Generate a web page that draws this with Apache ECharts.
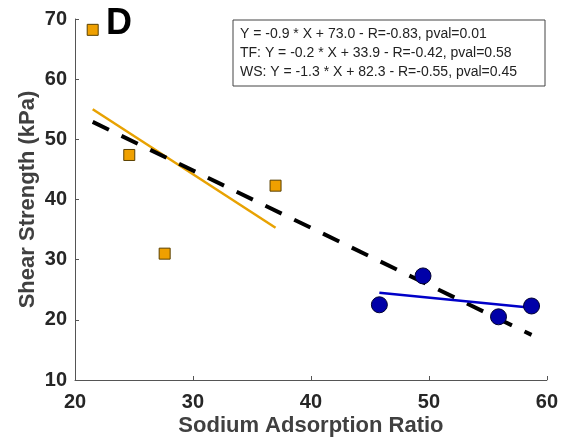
<!DOCTYPE html>
<html>
<head>
<meta charset="utf-8">
<script src="https://cdn.jsdelivr.net/npm/echarts@6/dist/echarts.min.js"></script>
<style>
  html, body { margin: 0; padding: 0; background: #fff; }
  #chart { width: 561px; height: 444px; }
</style>
</head>
<body>
<div id="chart"></div>
<script>
// TF samples (orange squares)
var tf_points = [[21.5, 68.2], [24.6, 47.4], [27.6, 31.0], [37.0, 42.3]];
// WS samples (blue circles)
var ws_points = [[45.8, 22.5], [49.5, 27.3], [55.9, 20.5], [58.7, 22.3]];
// fitted lines, endpoints
var all_fit = [[21.5, 52.9], [58.7, 17.5]];
var tf_fit = [[21.5, 55.0], [37.0, 35.3]];
var ws_fit = [[45.8, 24.5], [58.7, 22.0]];
var fit_text = [
    'Y = -0.9 * X + 73.0 - R=-0.83, pval=0.01',
    'TF: Y = -0.2 * X + 33.9 - R=-0.42, pval=0.58',
    'WS: Y = -1.3 * X + 82.3 - R=-0.55, pval=0.45'
];

var font = 'Liberation Sans, Arial, sans-serif';
var axis_color = '#555';

var myChart = echarts.init(document.getElementById('chart'));

var option = {
    animation: false,
    grid: { left: 75, right: 14, top: 19, bottom: 64 },
    xAxis: {
        type: 'value', min: 20, max: 60, interval: 10,
        name: 'Sodium Adsorption Ratio', nameLocation: 'middle', nameGap: 35,
        nameMoveOverlap: false,
        nameTextStyle: { fontFamily: font, fontWeight: 'bold', fontSize: 22, color: '#404040' },
        axisLine: { lineStyle: { color: axis_color, width: 1 } },
        axisTick: { inside: true, length: 4, lineStyle: { color: axis_color } },
        axisLabel: { fontFamily: font, fontWeight: 'bold', fontSize: 20, color: '#262626', margin: 12 },
        splitLine: { show: false }
    },
    yAxis: {
        type: 'value', min: 10, max: 70, interval: 10,
        name: 'Shear Strength (kPa)', nameLocation: 'middle', nameGap: 36,
        nameMoveOverlap: false,
        nameTextStyle: { fontFamily: font, fontWeight: 'bold', fontSize: 22, color: '#404040' },
        axisLine: { show: true, lineStyle: { color: axis_color, width: 1 } },
        axisTick: { show: true, inside: true, length: 4, lineStyle: { color: axis_color } },
        axisLabel: { fontFamily: font, fontWeight: 'bold', fontSize: 20, color: '#262626', margin: 8 },
        splitLine: { show: false }
    },
    graphic: [
        {
            type: 'text', left: 106, top: 6,
            style: { text: 'D', font: 'bold 36px ' + font, fill: '#000' }
        },
        {
            type: 'rect', shape: { x: 233, y: 20, width: 312, height: 66 },
            style: { fill: '#fff', stroke: '#444', lineWidth: 1 }, z: 10
        },
        {
            type: 'text', left: 240, top: 25, z: 11,
            style: { text: fit_text.join('\n'), font: '14px ' + font, lineHeight: 19, fill: '#222' }
        }
    ],
    series: [
        {
            type: 'line', data: tf_fit, symbol: 'none', z: 3,
            lineStyle: { color: '#E8A202', width: 2.5 }
        },
        {
            type: 'line', data: all_fit, symbol: 'none', z: 3,
            lineStyle: { color: '#000', width: 4, type: [18, 14] }
        },
        {
            type: 'line', data: ws_fit, symbol: 'none', z: 3,
            lineStyle: { color: '#0000C8', width: 2.5 }
        },
        {
            type: 'scatter', data: tf_points, symbol: 'rect', symbolSize: 11, z: 4,
            itemStyle: { color: '#EFA000', borderColor: '#5a4000', borderWidth: 1, opacity: 1 }
        },
        {
            type: 'scatter', data: ws_points, symbol: 'circle', symbolSize: 16, z: 4,
            itemStyle: { color: '#0000A8', borderColor: '#000030', borderWidth: 1, opacity: 1 }
        }
    ]
};

myChart.setOption(option);
</script>
</body>
</html>
